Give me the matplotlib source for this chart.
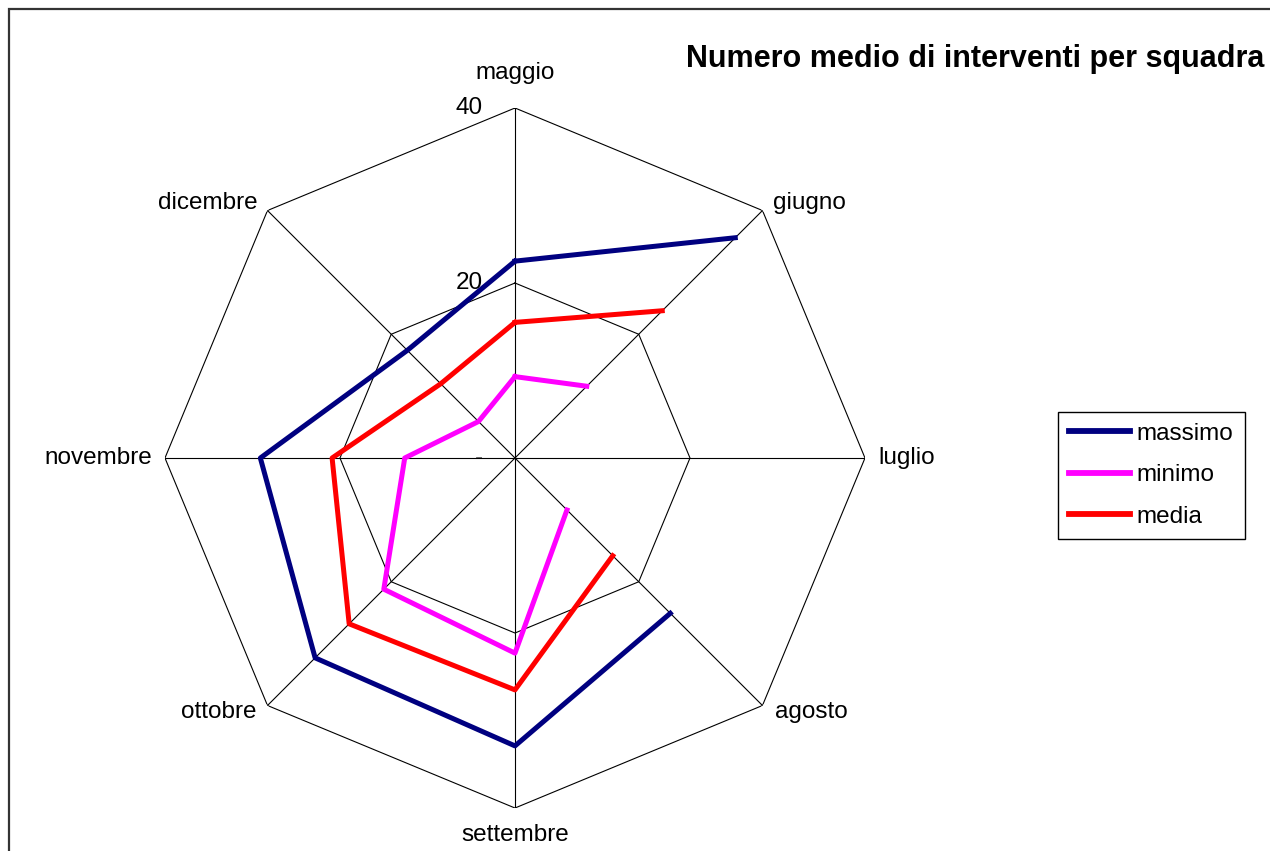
import numpy as np
import matplotlib
matplotlib.use('Agg')
import matplotlib.pyplot as plt
from matplotlib.patches import Rectangle

plt.rcParams['font.family'] = ['Liberation Sans', 'DejaVu Sans']

# dati (luglio mancante)
mesi = ['maggio', 'giugno', 'luglio', 'agosto', 'settembre', 'ottobre', 'novembre', 'dicembre']
massimo = [22.5, 35.6, np.nan, 25.1, 32.9, 32.3, 29.1, 17.4]
minimo = [9.3, 11.6, np.nan, 8.4, 22.3, 21.2, 12.6, 5.9]
media = [15.5, 23.8, np.nan, 15.8, 26.5, 26.8, 20.9, 12.0]
r_ticks = [0, 20, 40]
r_labels = ['-', '20', '40']

n = len(mesi)
theta = np.arange(n) * 2 * np.pi / n
theta_c = np.append(theta, theta[0])

fig = plt.figure(figsize=(12.7, 8.51), dpi=100)
ax = fig.add_axes([0.1299, 0.0505, 0.5512, 0.8226], projection='polar')
ax.set_theta_offset(np.pi / 2)
ax.set_theta_direction(-1)
ax.set_ylim(0, 40)
ax.grid(False)
ax.set_xticks([])
ax.set_yticks([])
ax.spines['polar'].set_visible(False)
ax.patch.set_visible(False)

# griglia ottagonale
for r in r_ticks[1:]:
    ax.plot(theta_c, [r] * (n + 1), color='black', lw=0.8, zorder=1)
for t in theta:
    ax.plot([t, t], [0, 40], color='black', lw=0.8, zorder=1)

# etichette asse radiale
for r, lab in zip(r_ticks, r_labels):
    ax.annotate(lab, xy=(0, r), xytext=(-32, 0), textcoords='offset pixels',
                ha='right', va='center', fontsize=17.5)

# etichette categorie
offs = [(0, 35, 'center'), (11, 8, 'left'), (13, 0, 'left'), (13, -6, 'left'),
        (0, -27, 'center'), (-11, -6, 'right'), (-13, 0, 'right'), (-10, 8, 'right')]
for t, lab, (dx, dy, ha) in zip(theta, mesi, offs):
    ax.annotate(lab, xy=(t, 40), xytext=(dx, dy), textcoords='offset pixels',
                ha=ha, va='center', fontsize=17.5)

# serie
ax.plot(theta_c, massimo + [massimo[0]], color='#000080', lw=3.6, label='massimo', zorder=3)
ax.plot(theta_c, minimo + [minimo[0]], color='#FF00FF', lw=3.6, label='minimo', zorder=3)
ax.plot(theta_c, media + [media[0]], color='#FF0000', lw=3.6, label='media', zorder=3)

leg = fig.legend(loc='upper left', bbox_to_anchor=(0.833, 0.516), fontsize=17.5,
                 frameon=True, fancybox=False, edgecolor='black', framealpha=1,
                 handlelength=2.5, handletextpad=0.3, labelspacing=0.8,
                 borderpad=0.45, borderaxespad=0)
leg.get_frame().set_linewidth(1.0)
for h in leg.get_lines():
    h.set_linewidth(4.2)

fig.text(0.768, 0.931, 'Numero medio di interventi per squadra', ha='center', va='center',
         fontsize=22, fontweight='bold')

# bordo area grafico
fig.add_artist(Rectangle((9 / 1270, -0.1), 1.5, 1 - 9 / 851 + 0.1, fill=False,
                         edgecolor='#333333', lw=1.6, transform=fig.transFigure))

fig.savefig('out.png', dpi=100)
